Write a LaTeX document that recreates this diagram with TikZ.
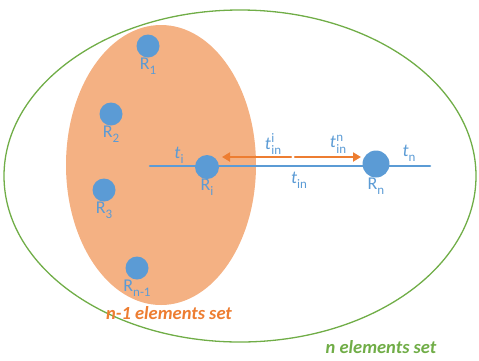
\documentclass[tikz,border=0pt]{standalone}
\usepackage{fontspec}
\setmainfont{Carlito}
\usetikzlibrary{positioning, arrows.meta}
\definecolor{dotblue}{HTML}{5B9BD5}
\definecolor{setorange}{HTML}{F4B183}
\definecolor{arroworange}{HTML}{ED7D31}
\definecolor{setgreen}{HTML}{70AD47}
\newcommand*\lsub[1]{\raisebox{-0.28em}{\fontsize{13}{13}\selectfont #1}}
\newcommand*\tsub[1]{\textit{t}\lsub{#1}}
\newcommand*\tsupsub[2]{\textit{t}\kern0.5pt\raisebox{-0.3em}{\fontsize{13}{10}\selectfont\shortstack[l]{#1\\#2}}}

\begin{document}
\begin{tikzpicture}[
        x=1pt, y=-1pt,
        line cap=round, line join=round,
        dot/.style={circle, fill=dotblue, inner sep=0pt, minimum size=#1},
        dot/.default=23pt,
        lbl/.style={text=dotblue, font=\fontsize{18}{18}\selectfont, inner sep=1pt},
        setlbl/.style={font=\fontsize{18.5}{18.5}\selectfont\bfseries\itshape, inner sep=0pt},
        interval/.style={arroworange, line width=2.4pt, -{Triangle[length=8pt, width=9pt]}}
    ]
    \useasboundingbox (0,0) rectangle (479,360);
    \draw[setgreen, line width=1.3pt] (240,176) ellipse[x radius=236pt, y radius=166pt];
    \fill[setorange] (161,165) ellipse[x radius=95pt, y radius=140pt];
    % time line
    \coordinate (left) at (150,166);
    \coordinate (right) at (430,166);
    \draw[dotblue, line width=2.6pt] (left) -- (right);
    % elements
    \node[dot] (r1) at (148,46) {};
    \node[dot] (r2) at (111,114) {};
    \node[dot] (r3) at (104,190) {};
    \node[dot] (rn1) at (137,268) {};
    \node[dot=24pt] (ri) at (207,167) {};
    \node[dot=27pt] (rn) at (376,164) {};
    \node[lbl, below=-1pt of r1] {R\lsub{1}};
    \node[lbl, below=-1pt of r2] {R\lsub{2}};
    \node[lbl, below=-1pt of r3] {R\lsub{3}};
    \node[lbl, below=-1pt of rn1] {R\lsub{n-1}};
    \node[lbl, below=-1pt of ri] {R\lsub{i}};
    \node[lbl, below=-1pt of rn] {R\lsub{n}};
    \node[lbl] (ti) at (179,155) {\tsub{i}};
    \node[lbl] (tn) at (409,153) {\tsub{n}};
    \node[lbl] (tin) at (299,180) {\tsub{in}};
    % intervals
    \coordinate (mid) at (293,157);
    \draw[interval] ([xshift=-2pt]mid) -- (222,157);
    \draw[interval] ([xshift=2pt]mid) -- (361,157);
    \node[lbl] (tini) at (273,144) {\tsupsub{i}{in}};
    \node[lbl] (tinn) at (338,144) {\tsupsub{n}{in}};
    % set names
    \node[setlbl, text=arroworange] (sub) at (169,313) {n-1 elements set};
    \node[setlbl, text=setgreen] (all) at (381,347) {n elements set};
\end{tikzpicture}
\end{document}
